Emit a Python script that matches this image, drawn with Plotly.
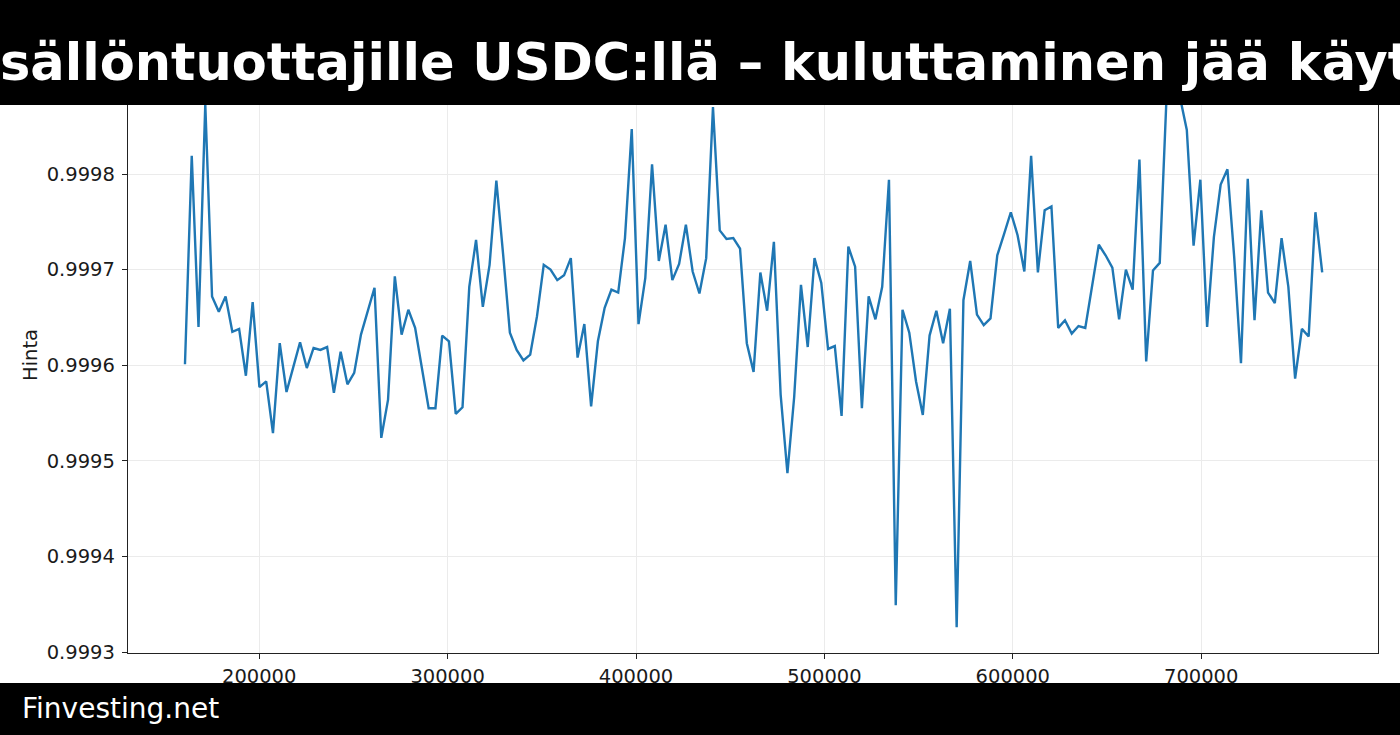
import plotly.graph_objects as go

# block positions (evenly spaced) and USDC price readings
x_start = 160600
x_step = 3593

hinta = [
    0.999601, 0.999819, 0.999640, 0.999873, 0.999672, 0.999656, 0.999672, 0.999635,
    0.999638, 0.999589, 0.999666, 0.999577, 0.999583, 0.999529, 0.999623, 0.999572,
    0.999598, 0.999624, 0.999597, 0.999618, 0.999616, 0.999619, 0.999571, 0.999614,
    0.999580, 0.999592, 0.999632, 0.999656, 0.999681, 0.999524, 0.999564, 0.999693,
    0.999632, 0.999658, 0.999639, 0.999597, 0.999555, 0.999555, 0.999631, 0.999625,
    0.999549, 0.999556, 0.999682, 0.999731, 0.999661, 0.999705, 0.999793, 0.999716,
    0.999634, 0.999616, 0.999605, 0.999611, 0.999651, 0.999705, 0.999700, 0.999689,
    0.999694, 0.999712, 0.999608, 0.999643, 0.999557, 0.999625, 0.999660, 0.999679,
    0.999676, 0.999733, 0.999847, 0.999643, 0.999691, 0.999810, 0.999709, 0.999747,
    0.999689, 0.999706, 0.999747, 0.999698, 0.999675, 0.999712, 0.999870, 0.999741,
    0.999732, 0.999733, 0.999722, 0.999623, 0.999593, 0.999697, 0.999657, 0.999729,
    0.999569, 0.999487, 0.999567, 0.999684, 0.999619, 0.999712, 0.999686, 0.999617,
    0.999620, 0.999547, 0.999724, 0.999703, 0.999555, 0.999672, 0.999648, 0.999682,
    0.999794, 0.999349, 0.999658, 0.999634, 0.999583, 0.999548, 0.999631, 0.999657,
    0.999623, 0.999659, 0.999326, 0.999668, 0.999709, 0.999653, 0.999642, 0.999649,
    0.999715, 0.999737, 0.999760, 0.999736, 0.999698, 0.999819, 0.999697, 0.999762,
    0.999766, 0.999639, 0.999647, 0.999633, 0.999641, 0.999639, 0.999682, 0.999726,
    0.999715, 0.999702, 0.999648, 0.999700, 0.999679, 0.999815, 0.999604, 0.999699,
    0.999707, 0.999880, 0.999890, 0.999880, 0.999846, 0.999725, 0.999794, 0.999640,
    0.999734, 0.999789, 0.999805, 0.999713, 0.999602, 0.999795, 0.999647, 0.999762,
    0.999676, 0.999665, 0.999733, 0.999682, 0.999586, 0.999638, 0.999630, 0.999760,
    0.999697,
]
x = [x_start + i * x_step for i in range(len(hinta))]

title = "sällöntuottajille USDC:llä – kuluttaminen jää käyt"
footer = "Finvesting.net"

W, H = 1400, 735
ml, mr, mt, mb = 128, 22, 71, 82
pw, ph = W - ml - mr, H - mt - mb


def px(p):  # pixel x -> paper
    return (p - ml) / pw


def py(p):  # pixel y -> paper
    return (H - mb - p) / ph


fig = go.Figure()
fig.add_trace(go.Scatter(x=x, y=hinta, mode="lines",
                         line=dict(color="#1f77b4", width=2.4),
                         hoverinfo="skip"))

axis_common = dict(
    showline=True, linecolor="#222222", linewidth=1.3, mirror=True,
    ticks="outside", ticklen=5, tickwidth=1.2, tickcolor="#222222",
    showgrid=True, gridcolor="#ebebeb", gridwidth=1, zeroline=False,
    tickfont=dict(family="DejaVu Sans", size=19.5, color="#1a1a1a"),
)

fig.update_layout(
    width=W, height=H,
    margin=dict(l=ml, r=mr, t=mt, b=mb),
    paper_bgcolor="white", plot_bgcolor="white",
    showlegend=False,
    xaxis=dict(range=[130361, 793843], tick0=200000, dtick=100000,
               tickformat="d", **axis_common),
    yaxis=dict(range=[0.99929895, 0.99990774], tick0=0.9993, dtick=0.0001,
               tickformat=".4f", ticklabelstandoff=3, **axis_common),
    shapes=[
        dict(type="rect", xref="paper", yref="paper", layer="above",
             x0=px(-20), x1=px(W + 20), y0=py(105), y1=py(-10),
             fillcolor="black", line=dict(width=0)),
        dict(type="rect", xref="paper", yref="paper", layer="above",
             x0=px(-20), x1=px(W + 20), y0=py(H + 10), y1=py(683),
             fillcolor="black", line=dict(width=0)),
    ],
    annotations=[
        dict(text=title, xref="paper", yref="paper", x=px(-2), y=py(62),
             xanchor="left", yanchor="middle", showarrow=False,
             font=dict(family="DejaVu Sans", size=51, color="white", weight="bold")),
        dict(text=footer, xref="paper", yref="paper", x=px(20), y=py(708),
             xanchor="left", yanchor="middle", showarrow=False,
             font=dict(family="DejaVu Sans", size=28, color="white")),
        dict(text="Hinta", xref="paper", yref="paper", x=px(30), y=py(355),
             xanchor="center", yanchor="middle", showarrow=False, textangle=-90,
             font=dict(family="DejaVu Sans", size=19.5, color="#1a1a1a")),
    ],
)

fig.write_html("out.html", config={"displayModeBar": False},
               post_script="document.body.style.margin='0';document.body.style.overflow='hidden';")
